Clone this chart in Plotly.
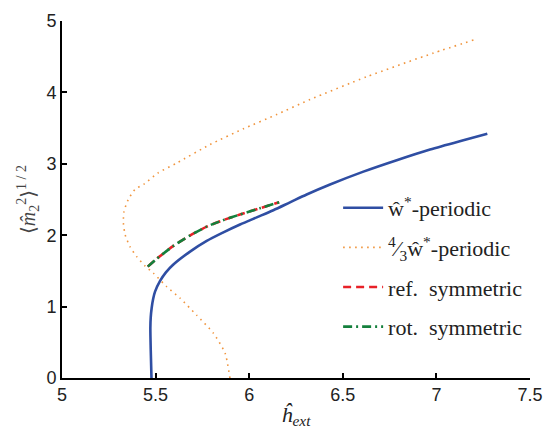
import plotly.graph_objects as go

# w*-periodic branch (solid blue)
blue_x = [5.478, 5.474, 5.472, 5.474, 5.479, 5.487, 5.497, 5.524, 5.555, 5.595,
          5.684, 5.773, 5.862, 5.951, 6.040, 6.129, 6.218, 6.307, 6.432, 6.610,
          6.788, 6.966, 7.144, 7.272]
blue_y = [0.00, 0.40, 0.70, 0.85, 0.98, 1.11, 1.21, 1.36, 1.48, 1.59,
          1.77, 1.92, 2.04, 2.15, 2.25, 2.35, 2.46, 2.57, 2.71, 2.89,
          3.05, 3.20, 3.33, 3.42]

# 4/3 w*-periodic branch (dotted orange)
orange_x = [5.897, 5.871, 5.808, 5.719, 5.630, 5.559, 5.488, 5.443, 5.399, 5.363,
            5.337, 5.328, 5.331, 5.354, 5.390, 5.440, 5.512, 5.612, 5.791, 5.969,
            6.147, 6.325, 6.628, 6.983, 7.206]
orange_y = [0.00, 0.35, 0.63, 0.88, 1.12, 1.28, 1.47, 1.57, 1.70, 1.84,
            2.01, 2.17, 2.33, 2.50, 2.64, 2.72, 2.87, 3.01, 3.27, 3.49,
            3.69, 3.90, 4.22, 4.55, 4.74]

# reflection symmetric (dashed red)
red_x = [5.458, 5.506, 5.595, 5.680, 5.773, 5.860, 5.951, 6.060, 6.160]
red_y = [1.56, 1.67, 1.85, 1.99, 2.12, 2.21, 2.29, 2.38, 2.46]

# rotation symmetric (dash-dot green)
green_x = [5.458, 5.506, 5.595, 5.680, 5.773, 5.860, 5.951, 6.060, 6.160]
green_y = [1.56, 1.67, 1.85, 1.99, 2.12, 2.21, 2.29, 2.38, 2.46]

x_ticks = [5, 5.5, 6, 6.5, 7, 7.5]
x_tick_labels = ["5", "5.5", "6", "6.5", "7", "7.5"]
y_ticks = [0, 1, 2, 3, 4, 5]
y_tick_labels = ["0", "1", "2", "3", "4", "5"]

names = ["ŵ<sup>*</sup>-periodic",
         "<sup>4</sup>⁄<sub>3</sub>ŵ<sup>*</sup>-periodic",
         "ref.  symmetric",
         "rot.  symmetric"]

SERIF = "Liberation Serif, DejaVu Serif, serif"

fig = go.Figure()
fig.add_trace(go.Scatter(x=blue_x, y=blue_y, mode="lines", name=names[0],
                         line=dict(color="#2f4ea3", width=2.6, shape="spline", smoothing=0.8),
                         legendgroup="a"))
fig.add_trace(go.Scatter(x=orange_x, y=orange_y, mode="lines", name=names[1],
                         line=dict(color="#f0953e", width=1.6, dash="1.6px,4.4px",
                                   shape="spline", smoothing=0.6),
                         legendgroup="b"))
fig.add_trace(go.Scatter(x=red_x, y=red_y, mode="lines", name=names[2],
                         line=dict(color="#e82128", width=2.6, dash="8px,5px",
                                   shape="spline", smoothing=0.6),
                         legendgroup="c"))
fig.add_trace(go.Scatter(x=green_x, y=green_y, mode="lines", name=names[3],
                         line=dict(color="#14803c", width=2.6, dash="9px,4px,2px,4px",
                                   shape="spline", smoothing=0.6),
                         legendgroup="d"))

axis_common = dict(showline=True, linecolor="black", linewidth=1.6, mirror=False,
                   ticks="inside", ticklen=5, tickwidth=1.6, tickcolor="black",
                   showgrid=False, zeroline=False,
                   tickfont=dict(family="Liberation Sans, Arial, sans-serif", size=18, color="#222"))

fig.update_xaxes(range=[5, 7.5], tickvals=x_ticks, ticktext=x_tick_labels,
                 title=dict(text="<i>ĥ</i><sub><i>ext</i></sub>",
                            font=dict(family=SERIF, size=22, color="#222"),
                            standoff=2),
                 **axis_common)
fig.update_yaxes(range=[0, 5], tickvals=y_ticks, ticktext=y_tick_labels,
                 title=dict(text="⟨<i>m̂</i><sub>2</sub><sup>2</sup>⟩<sup>1 / 2</sup>",
                            font=dict(family=SERIF, size=20, color="#444"),
                            standoff=6),
                 **axis_common)

fig.update_layout(
    width=551, height=433,
    margin=dict(l=62, r=21, t=21, b=55, autoexpand=False),
    plot_bgcolor="white", paper_bgcolor="white",
    legend=dict(x=0.59, y=0.535, xanchor="left", yanchor="top",
                bgcolor="rgba(0,0,0,0)", borderwidth=0,
                font=dict(family=SERIF, size=22, color="#222"),
                itemwidth=40, tracegroupgap=8, traceorder="grouped"),
    showlegend=True,
)

fig.write_html("out.html")
